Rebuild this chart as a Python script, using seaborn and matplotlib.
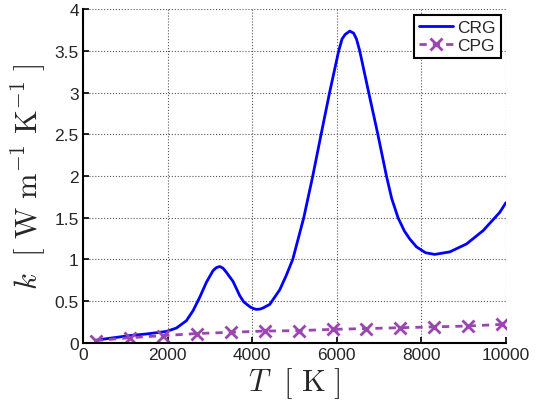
# Thermal conductivity k(T): CRG vs CPG, MATLAB-style look.
import matplotlib

matplotlib.use("Agg")
import matplotlib.pyplot as plt
import pandas as pd
import seaborn as sns

# values
crg_T = [300, 700, 1100, 1500, 1970, 2209, 2445, 2602, 2760, 2918, 3075, 3150,
         3233, 3310, 3391, 3548, 3706, 3800, 3950, 4030, 4101, 4180, 4250,
         4416, 4652, 4800, 4960, 5220, 5433, 5630, 5830, 6045, 6126, 6200,
         6308, 6400, 6466, 6545, 6757, 6960, 7176, 7300, 7450, 7600, 7727,
         7886, 8100, 8318, 8673, 9068, 9461, 9856, 10000]
crg_k = [0.03, 0.058, 0.085, 0.105, 0.135, 0.176, 0.264, 0.384, 0.545, 0.725,
         0.865, 0.90, 0.915, 0.895, 0.845, 0.735, 0.565, 0.49, 0.43, 0.41,
         0.40, 0.403, 0.415, 0.46, 0.635, 0.80, 1.0, 1.5, 2.0, 2.5, 3.0, 3.5,
         3.646, 3.70, 3.74, 3.715, 3.646, 3.5, 3.0, 2.53, 2.0, 1.73, 1.5,
         1.34, 1.245, 1.15, 1.08, 1.06, 1.09, 1.185, 1.345, 1.565, 1.68]

cpg_T = [300, 1100, 1900, 2700, 3500, 4300, 5100, 5900, 6700, 7500, 8300, 9100, 9900]
cpg_k = [0.025, 0.06, 0.085, 0.11, 0.125, 0.14, 0.145, 0.16, 0.17, 0.18, 0.19, 0.20, 0.22]

crg = pd.DataFrame({"T": crg_T, "k": crg_k})
cpg = pd.DataFrame({"T": cpg_T, "k": cpg_k})

sns.set_style("ticks")
plt.rcParams["font.family"] = ["Liberation Sans", "DejaVu Sans"]
plt.rcParams["mathtext.fontset"] = "cm"

fig = plt.figure(figsize=(5.38, 4.14), dpi=100)
ax = fig.add_axes([0.1543, 0.1698, 0.786, 0.805])

purple = "#9b45b0"
sns.lineplot(data=crg, x="T", y="k", ax=ax, color="#0000ff", lw=2,
             sort=False, estimator=None, label="CRG")
sns.lineplot(data=cpg, x="T", y="k", ax=ax, color=purple, lw=2,
             linestyle=(0, (2.6, 2.2)), marker="x", markersize=9,
             markeredgewidth=2, markeredgecolor=purple,
             sort=False, estimator=None, label="CPG")

ax.set_xlim(0, 10000)
ax.set_ylim(0, 4)
ax.set_xticks(range(0, 10001, 2000))
ax.set_yticks([0, 0.5, 1, 1.5, 2, 2.5, 3, 3.5, 4])
ax.set_yticklabels(["0", "0.5", "1", "1.5", "2", "2.5", "3", "3.5", "4"])
ax.grid(True, ls=":", color="#555555", lw=0.8)
ax.tick_params(direction="in", labelsize=12.5, length=4, width=1.2,
               color="black", pad=3)
for s in ("top", "right"):
    ax.spines[s].set_visible(False)
for s in ("left", "bottom"):
    ax.spines[s].set_linewidth(1.5)
    ax.spines[s].set_color("black")

ax.set_xlabel(r"$T\ \ [\ \mathrm{K}\ ]$", fontsize=22, labelpad=2)
ax.set_ylabel(r"$k\ \ [\ \mathrm{W\ m^{-1}\ K^{-1}}\ ]$", fontsize=22, labelpad=4)

leg = ax.legend(loc="upper right", fontsize=12.5, frameon=True, fancybox=False,
                handlelength=2.0, handletextpad=0.2, borderpad=0.3,
                labelspacing=0.15, borderaxespad=0.3)
leg.get_frame().set_edgecolor("black")
leg.get_frame().set_linewidth(1.5)
leg.get_frame().set_alpha(1)

fig.savefig("out.png", dpi=100)
